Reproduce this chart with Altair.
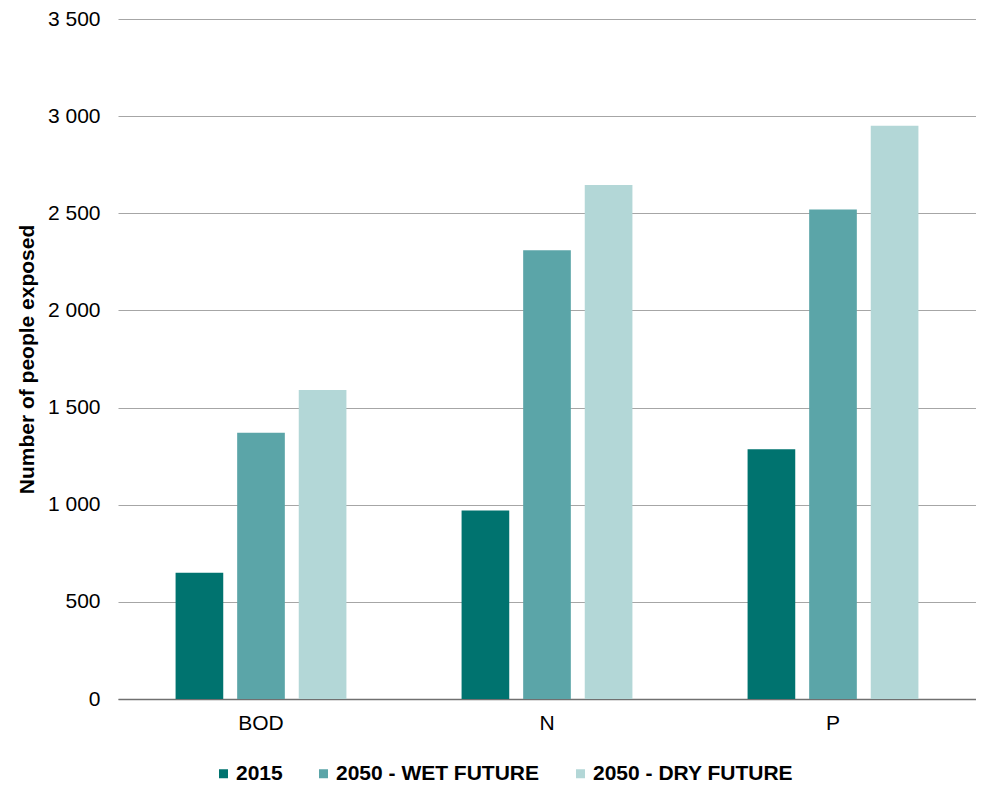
import altair as alt
import pandas as pd

categories = ["BOD", "N", "P"]
series = ["2015", "2050 - WET FUTURE", "2050 - DRY FUTURE"]
values_2015 = [650, 970, 1285]
values_wet = [1370, 2310, 2520]
values_dry = [1590, 2645, 2950]
colors = ["#00736F", "#5BA5A8", "#B3D7D7"]

rows = []
for s, vals in zip(series, [values_2015, values_wet, values_dry]):
    for c, v in zip(categories, vals):
        rows.append({"category": c, "series": s, "value": v})
df = pd.DataFrame(rows)

FONT = "Liberation Sans"

chart = alt.Chart(df).mark_bar().encode(
    x=alt.X("category:N", sort=categories, title=None,
            scale=alt.Scale(paddingInner=0.354, paddingOuter=0.177),
            axis=alt.Axis(labelAngle=0, labelFontSize=21, labelColor="#000000",
                          labelFont=FONT, labelPadding=13, ticks=False,
                          domainColor="#707070", domainWidth=1.5)),
    xOffset=alt.XOffset("series:N", sort=series,
                        scale=alt.Scale(paddingInner=0.226, paddingOuter=0.113)),
    y=alt.Y("value:Q", title="Number of people exposed",
            scale=alt.Scale(domain=[0, 3500]),
            axis=alt.Axis(values=list(range(0, 3501, 500)),
                          labelExpr="replace(format(datum.value, ','), ',', ' ')",
                          labelFontSize=21, labelColor="#000000", labelFont=FONT,
                          labelPadding=18, ticks=False, domain=False,
                          gridColor="#A6A6A6", gridWidth=1.2,
                          titleFont=FONT, titleFontSize=21, titleFontWeight="bold",
                          titleColor="#000000", titlePadding=10)),
    color=alt.Color("series:N", sort=series,
                    scale=alt.Scale(domain=series, range=colors),
                    legend=alt.Legend(title=None, orient="none", direction="horizontal",
                                      legendX=95, legendY=744, columns=3,
                                      symbolType="square", symbolSize=81,
                                      symbolStrokeWidth=0, labelFont=FONT,
                                      labelFontSize=21, labelFontWeight="bold",
                                      labelColor="#000000", columnPadding=30,
                                      labelOffset=2, labelLimit=400)),
).properties(
    width=858, height=680,
    autosize=alt.AutoSizeParams(type="none"),
    padding={"left": 110, "top": 11, "right": 0, "bottom": 86},
).configure_view(stroke=None)

chart.save("out.html", embed_options={"renderer": "svg", "actions": False})
